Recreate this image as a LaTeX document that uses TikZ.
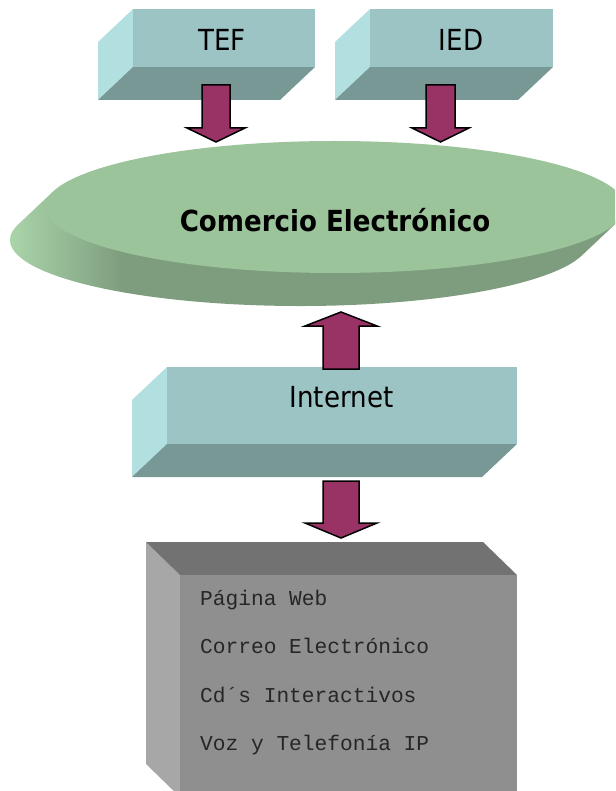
\documentclass[tikz,border=0pt]{standalone}
\usepackage{fontspec}
\newfontfamily\boxfont[FakeStretch=0.9]{DejaVu Sans}
\newfontfamily\listfont{Liberation Mono}
\usetikzlibrary{calc}

\definecolor{tealfront}{HTML}{9CC4C4}
\definecolor{tealdark}{HTML}{789896}
\definecolor{teallight}{HTML}{B2E0E0}
\definecolor{disctop}{HTML}{9BC49B}
\definecolor{discL}{HTML}{B0DCB0}
\definecolor{discD}{HTML}{7E9D7E}
\definecolor{plum}{HTML}{993366}
\definecolor{graytop}{HTML}{727272}
\definecolor{grayfront}{HTML}{8F8F8F}
\definecolor{grayleft}{HTML}{A7A7A7}

\pgfdeclarehorizontalshading{discside}{100bp}{color(0bp)=(discL); color(26bp)=(discL); color(36bp)=(discD); color(100bp)=(discD)}

\tikzset{
  plumarrow/.style={fill=plum, draw=black, line width=1.5pt, line join=miter},
  boxlabel/.style={font=\boxfont\fontsize{29}{34}\selectfont, anchor=base, inner sep=0pt},
  listitem/.style={font=\listfont\fontsize{21.2}{24}\selectfont, anchor=base west, inner sep=0pt, text=black!85}
}

\begin{document}
\begin{tikzpicture}[x=1pt,y=-1pt]
  \clip (0,0) rectangle (615,791);

  % teal boxes: front face, underside, left side
  \foreach \l/\r/\t/\b in {133/315/9/67, 370/553/9/67, 167/517/367/444}{
    \fill[teallight] (\l,\t) -- (\l,\b) -- ({\l-35},{\b+33}) -- ({\l-35},{\t+33}) -- cycle;
    \fill[tealdark] (\l,\b) -- (\r,\b) -- ({\r-35},{\b+33}) -- ({\l-35},{\b+33}) -- cycle;
    \fill[tealfront] (\l,\t) rectangle (\r,\b);
  }
  \node[boxlabel] (tef) at (222,51) {TEF};
  \node[boxlabel] (ied) at (461,51) {IED};
  \node[boxlabel] (internet) at (341.5,407) {Internet};

  % the disc
  \coordinate (ctop) at (335,207);
  \coordinate (cbot) at (300,240);
  \path[shading=discside] ($(ctop)+(12.8:290 and 66)$) -- ($(cbot)+(12.8:290 and 66)$)
    arc[start angle=12.8, end angle=192.8, x radius=290, y radius=66]
    -- ($(ctop)+(192.8:290 and 66)$) -- cycle;
  \fill[disctop] (ctop) ellipse [x radius=290, y radius=66];
  \node[boxlabel, font=\boxfont\bfseries\fontsize{29}{34}\selectfont] (ce) at (335,232) {Comercio Electrónico};

  % gray box
  \fill[grayleft] (146,542) -- (180,575) -- (180,797) -- (146,764) -- cycle;
  \fill[graytop] (146,542) -- (483,542) -- (517,575) -- (180,575) -- cycle;
  \fill[grayfront] (180,575) rectangle (517,797);
  \foreach \txt [count=\i] in {Página Web, Correo Electrónico, Cd´s Interactivos, Voz y Telefonía IP}
    \node[listitem] (s\i) at (200,{605+48.5*(\i-1)}) {\txt};

  % block arrows
  \coordinate (tef-out) at (216,85);
  \coordinate (ied-out) at (440.5,85);
  \coordinate (net-up) at (341,369);
  \coordinate (net-down) at (341,481);
  \draw[plumarrow] (tef-out) ++(-14,0) -- ++(0,43) -- ++(-15,0) -- ++(29,14) -- ++(29,-14) -- ++(-15,0) -- ++(0,-43) -- cycle;
  \draw[plumarrow] (ied-out) ++(-14.5,0) -- ++(0,43) -- ++(-14,0) -- ++(28.5,14) -- ++(28.5,-14) -- ++(-14,0) -- ++(0,-43) -- cycle;
  \draw[plumarrow] (net-up) ++(-18,0) -- ++(0,-43) -- ++(-18,0) -- ++(36,-14) -- ++(36,14) -- ++(-18,0) -- ++(0,43) -- cycle;
  \draw[plumarrow] (net-down) ++(-18,0) -- ++(0,42) -- ++(-18,0) -- ++(36,15) -- ++(36,-15) -- ++(-18,0) -- ++(0,-42) -- cycle;
\end{tikzpicture}
\end{document}
